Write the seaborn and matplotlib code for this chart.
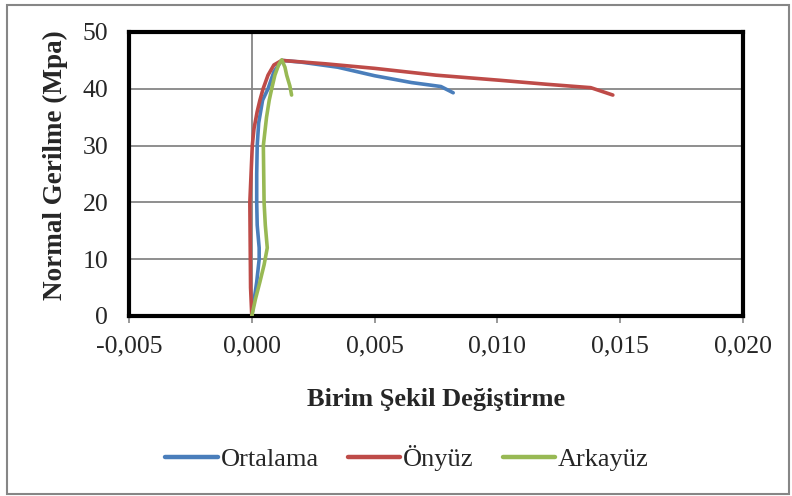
import numpy as np
import pandas as pd
import seaborn as sns
import matplotlib.pyplot as plt
from matplotlib.patches import Rectangle
from matplotlib.ticker import FuncFormatter

# Veriler
ortalama_x = [0, 0.0001, 0.0002, 0.0003, 0.0003, 0.00022, 0.0002, 0.0002, 0.00022, 0.00028,
              0.00044, 0.00066, 0.0009, 0.00122, 0.002, 0.0035, 0.005, 0.0065, 0.0077, 0.0082]
ortalama_y = [0, 3, 6, 10, 12, 16, 20, 25, 30, 34,
              38, 40, 43, 45, 44.7, 43.8, 42.3, 41.1, 40.4, 39.3]

onyuz_x = [0, -0.00005, -0.00006, -0.00008, -0.00003, 0.00002, 0.00009, 0.00022, 0.00033, 0.00046,
           0.00066, 0.0009, 0.00122, 0.003, 0.005, 0.0075, 0.0101, 0.012, 0.0138, 0.0147]
onyuz_y = [0, 5, 10, 20, 25, 30, 33, 36, 38, 40,
           42.4, 44.2, 45, 44.4, 43.6, 42.4, 41.5, 40.8, 40.2, 38.9]

arkayuz_x = [0, 0.00015, 0.00033, 0.0005, 0.00063, 0.00055, 0.0005, 0.00047, 0.0006, 0.00071,
             0.00081, 0.00094, 0.0011, 0.00122, 0.00135, 0.00142, 0.00155, 0.00162]
arkayuz_y = [0, 3, 6, 9, 12, 16, 20, 30, 35, 38,
             40, 42.4, 44.3, 45.1, 43.8, 42.4, 40.5, 38.9]

seriler = ['Ortalama', 'Önyüz', 'Arkayüz']
renkler = ['#4A7EBB', '#BE4B48', '#98B954']

df = pd.concat([
    pd.DataFrame({'x': ortalama_x, 'y': ortalama_y, 'seri': 'Ortalama'}),
    pd.DataFrame({'x': onyuz_x, 'y': onyuz_y, 'seri': 'Önyüz'}),
    pd.DataFrame({'x': arkayuz_x, 'y': arkayuz_y, 'seri': 'Arkayüz'}),
], ignore_index=True)

sns.set_style('white')
plt.rcParams['font.family'] = ['Liberation Serif', 'DejaVu Serif']

fig = plt.figure(figsize=(7.92, 4.96), dpi=100)
ax = fig.add_axes([129 / 792, 1 - 316 / 496, 614 / 792, 284 / 496])

# Yatay kilavuz cizgileri ve x=0 dikey ekseni
for yv in [10, 20, 30, 40]:
    ax.axhline(yv, color='#868686', lw=1.3, zorder=1)
ax.axvline(0, color='#868686', lw=1.3, zorder=1)

sns.lineplot(data=df, x='x', y='y', hue='seri', hue_order=seriler, palette=renkler,
             sort=False, estimator=None, lw=2.6, ax=ax, legend=False, zorder=3)

ax.set_xlim(-0.005, 0.020)
ax.set_ylim(0, 50)
ax.set_xticks([-0.005, 0, 0.005, 0.010, 0.015, 0.020])
ax.set_yticks([0, 10, 20, 30, 40, 50])
ax.xaxis.set_major_formatter(FuncFormatter(lambda v, p: f'{v:.3f}'.replace('.', ',')))

for s in ax.spines.values():
    s.set_color('black')
    s.set_linewidth(3)
ax.tick_params(axis='x', length=5, width=1.2, color='#868686', pad=9, labelsize=18.5, bottom=True)
ax.tick_params(axis='y', length=0, pad=15, labelsize=18.5)

ax.set_xlabel('Birim Şekil Değiştirme', fontsize=19, fontweight='bold')
ax.set_ylabel('Normal Gerilme (Mpa)', fontsize=19.5, fontweight='bold')
ax.xaxis.set_label_coords(0.5, -0.254)
ax.yaxis.set_label_coords(-0.1, 0.53)

# Lejant
handles = [plt.Line2D([], [], color=c, lw=3.2) for c in renkler]
fig.legend(handles, seriler, loc='center', bbox_to_anchor=(407 / 792, 1 - 458 / 496), ncol=3,
           frameon=False, fontsize=19, handlelength=2.0, handletextpad=0.1, columnspacing=1.1)

# Dis cerceve
fig.patches.append(Rectangle((7 / 792, 2 / 496), 782 / 792, 489 / 496, transform=fig.transFigure,
                             fill=False, edgecolor='#868686', lw=1.5))

fig.savefig('out.png', dpi=100)
